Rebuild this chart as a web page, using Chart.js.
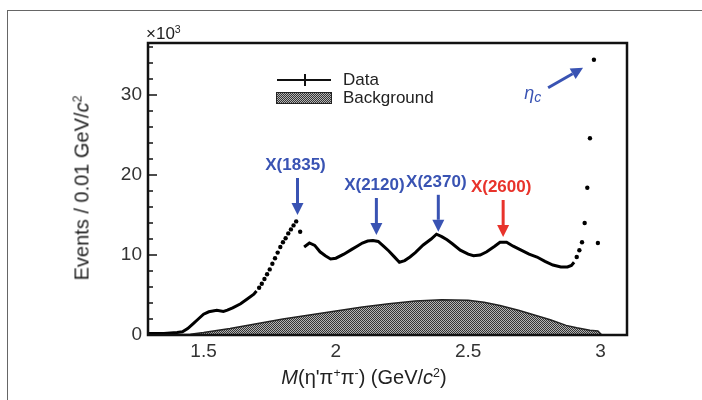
<!DOCTYPE html>
<html>
<head>
<meta charset="utf-8">
<script src="https://cdn.jsdelivr.net/npm/chart.js@4.4.1/dist/chart.umd.min.js"></script>
<style>
  html, body { margin: 0; padding: 0; background: #fff; }
  #wrap { position: relative; width: 702px; height: 400px; overflow: hidden;
          font-family: "Liberation Sans", Arial, sans-serif; color: #222; }
  #frame { position: absolute; left: 7px; top: 10px; width: 800px; height: 500px;
           border-left: 1.5px solid #666; border-top: 1.5px solid #666; }
  #c { position: absolute; left: 0; top: 0; }
  .t { position: absolute; white-space: nowrap; line-height: 20px; }
  .ytitle { left: 83px; top: 188px; font-size: 20px; transform: translate(-50%, -50%) rotate(-90deg); }
  .xtitle { left: 364px; top: 378px; font-size: 20px; transform: translate(-50%, -50%); }
  sup { font-size: 62%; vertical-align: 0; position: relative; top: -0.55em; }
  .mul { left: 146px; top: 24px; font-size: 17px; }
  .lg-line { position: absolute; left: 277px; top: 79px; width: 54px; height: 2px; background: #111; }
  .lg-tick { position: absolute; left: 304px; top: 74px; width: 2px; height: 12px; background: #111; }
  .lg-box { position: absolute; left: 276px; top: 92px; width: 54px; height: 10px; border: 1px solid #222;
            background-image: repeating-conic-gradient(#333 0 25%, #b4b4b4 0 50%); background-size: 2px 2px; }
  .lg-txt { font-size: 17px; left: 343px; }
</style>
</head>
<body>
<div id="wrap">
  <div id="frame"></div>
  <canvas id="c" width="702" height="400"></canvas>
  <div class="t ytitle">Events / 0.01 GeV/<i>c</i><sup>2</sup></div>
  <div class="t xtitle"><i>M</i>(η'π<sup>+</sup>π<sup>-</sup>) (GeV/<i>c</i><sup>2</sup>)</div>
  <div class="t mul">×10<sup>3</sup></div>
  <div class="lg-line"></div><div class="lg-tick"></div>
  <div class="lg-box"></div>
  <div class="t lg-txt" style="top:70px">Data</div>
  <div class="t lg-txt" style="top:88px">Background</div>
</div>
<script>
// ---- data (events in units of 10^3 per 0.01 GeV/c^2) ----
// continuous part of the data curve; null breaks the line where the points are drawn as dots
const lineMass = [1.29, 1.35, 1.40, 1.42, 1.44, 1.46, 1.48, 1.50, 1.52, 1.55, 1.575, 1.59, 1.61, 1.64, 1.665, 1.69, 1.70,
  1.705,
  1.88, 1.90, 1.92, 1.94, 1.96, 1.98, 2.00, 2.03, 2.06, 2.08, 2.10, 2.12, 2.14, 2.16, 2.18, 2.20, 2.22, 2.24, 2.26,
  2.28, 2.30, 2.33, 2.36, 2.38, 2.40, 2.42, 2.44, 2.47, 2.50, 2.52, 2.545, 2.57, 2.60, 2.62, 2.645, 2.67, 2.70,
  2.73, 2.76, 2.79, 2.82, 2.85, 2.875, 2.89, 2.90];
const lineEvents = [0.2, 0.2, 0.3, 0.4, 0.8, 1.4, 2.0, 2.6, 2.9, 3.1, 2.95, 3.1, 3.4, 3.9, 4.5, 5.1, 5.5,
  null,
  11.0, 11.5, 11.2, 10.4, 9.9, 9.5, 9.6, 10.1, 10.7, 11.1, 11.5, 11.75, 11.8, 11.7, 11.1, 10.5, 9.8, 9.1, 9.3,
  9.75, 10.3, 11.25, 12.0, 12.6, 12.3, 11.9, 11.4, 10.6, 10.1, 9.9, 10.0, 10.4, 11.1, 11.6, 11.6, 11.1, 10.6,
  10.1, 9.75, 9.2, 8.75, 8.5, 8.5, 8.7, 9.1];
// bins shown as separate dots (steep rise to X(1835) and the eta_c peak)
const dotMass = [1.71, 1.72, 1.73, 1.74, 1.75, 1.76, 1.77, 1.78, 1.79, 1.80, 1.81, 1.82, 1.83, 1.84, 1.85, 1.865,
  2.91, 2.92, 2.93, 2.94, 2.95, 2.96, 2.975, 2.99];
const dotEvents = [5.9, 6.4, 7.0, 7.6, 8.2, 8.9, 9.6, 10.3, 11.0, 11.6, 12.1, 12.7, 13.2, 13.7, 14.2, 12.9,
  9.75, 10.6, 11.6, 14.0, 18.4, 24.6, 34.4, 11.5];
// hatched background estimate
const bgMass = [1.38, 1.45, 1.50, 1.60, 1.70, 1.80, 1.90, 2.00, 2.10, 2.20, 2.30, 2.40, 2.50, 2.56, 2.62, 2.69,
  2.75, 2.81, 2.87, 2.91, 2.96, 2.99, 3.005];
const bgEvents = [0, 0.1, 0.3, 0.8, 1.4, 2.0, 2.5, 3.0, 3.5, 3.9, 4.25, 4.4, 4.35, 4.1, 3.7, 3.1,
  2.5, 1.9, 1.2, 0.9, 0.6, 0.5, 0];

const xTickValues = [1.5, 2, 2.5, 3];
const yTickValues = [0, 10, 20, 30];
const yMinorTicks = [0, 2, 4, 6, 8, 10, 12, 14, 16, 18, 20, 22, 24, 26, 28, 30, 32, 34, 36];

// annotations: resonance name, mass, height of the arrow tip
const peakNames = ["X(1835)", "X(2120)", "X(2370)", "X(2600)"];
const peakMass = [1.855, 2.153, 2.387, 2.632];
const peakTip = [15.0, 12.5, 12.9, 12.25];
const BLUE = "#3953b3", RED = "#e8332b";
const peakColor = [BLUE, BLUE, BLUE, RED];
const etacFrom = [2.802, 30.9], etacTo = [2.934, 33.4], etacLabel = [2.712, 30.0];

const pts = (xs, ys) => xs.map((x, i) => ({x, y: ys[i]}));

// fine checker pattern for the background fill
function hatch() {
  const p = document.createElement("canvas");
  p.width = 2; p.height = 2;
  const g = p.getContext("2d");
  g.fillStyle = "#b4b4b4"; g.fillRect(0, 0, 2, 2);
  g.fillStyle = "#333"; g.fillRect(0, 0, 1, 1); g.fillRect(1, 1, 1, 1);
  return g.createPattern(p, "repeat");
}

function arrow(ctx, x1, y1, x2, y2, color) {
  const ang = Math.atan2(y2 - y1, x2 - x1), hl = 12, hw = 6;
  const bx = x2 - hl * Math.cos(ang), by = y2 - hl * Math.sin(ang);
  ctx.strokeStyle = color; ctx.fillStyle = color; ctx.lineWidth = 3;
  ctx.beginPath(); ctx.moveTo(x1, y1); ctx.lineTo(bx, by); ctx.stroke();
  ctx.beginPath();
  ctx.moveTo(x2, y2);
  ctx.lineTo(bx + hw * Math.sin(ang), by - hw * Math.cos(ang));
  ctx.lineTo(bx - hw * Math.sin(ang), by + hw * Math.cos(ang));
  ctx.closePath(); ctx.fill();
}

const annotate = {
  id: "annotate",
  afterDatasetsDraw(chart) {
    const {ctx, chartArea: a, scales: {x, y}} = chart;
    ctx.save();
    // inward tick marks on the y axis
    ctx.strokeStyle = "#111"; ctx.lineWidth = 1.5;
    yMinorTicks.forEach(v => {
      const py = y.getPixelForValue(v), len = v % 10 === 0 ? 9 : 5;
      ctx.beginPath(); ctx.moveTo(a.left, py); ctx.lineTo(a.left + len, py); ctx.stroke();
    });
    // plot frame
    ctx.lineWidth = 2.5;
    ctx.strokeRect(a.left, a.top, a.right - a.left, a.bottom - a.top);

    // resonance arrows + labels
    ctx.font = 'bold 17px "Liberation Sans", Arial, sans-serif';
    ctx.textAlign = "center"; ctx.textBaseline = "alphabetic";
    peakNames.forEach((n, i) => {
      const px = x.getPixelForValue(peakMass[i]), tip = y.getPixelForValue(peakTip[i]);
      arrow(ctx, px, tip - 37, px, tip, peakColor[i]);
      ctx.fillStyle = peakColor[i];
      ctx.fillText(n, px - 2, tip - 45);
    });

    // eta_c
    arrow(ctx, x.getPixelForValue(etacFrom[0]), y.getPixelForValue(etacFrom[1]),
               x.getPixelForValue(etacTo[0]), y.getPixelForValue(etacTo[1]), BLUE);
    const lx = x.getPixelForValue(etacLabel[0]), ly = y.getPixelForValue(etacLabel[1]);
    ctx.fillStyle = BLUE; ctx.textAlign = "left";
    ctx.font = 'italic 18px "Liberation Sans", Arial, sans-serif';
    ctx.fillText("η", lx, ly + 4);
    const w = ctx.measureText("η").width;
    ctx.font = 'italic 14px "Liberation Sans", Arial, sans-serif';
    ctx.fillText("c", lx + w, ly + 7);
    ctx.restore();
  }
};

const tickFont = {family: '"Liberation Sans", Arial, sans-serif', size: 19};

new Chart(document.getElementById("c"), {
  type: "scatter",
  data: {
    datasets: [
      {label: "Background", data: pts(bgMass, bgEvents), showLine: true, fill: "origin",
       backgroundColor: hatch(), borderColor: "#222", borderWidth: 1.5, pointRadius: 0, order: 3},
      {label: "Data", data: pts(lineMass, lineEvents), showLine: true, spanGaps: false,
       borderColor: "#000", borderWidth: 3, pointRadius: 0, order: 2},
      {label: "Data dots", data: pts(dotMass, dotEvents), showLine: false,
       pointRadius: 2.2, pointBackgroundColor: "#000", pointBorderWidth: 0, order: 1}
    ]
  },
  options: {
    responsive: false, animation: false, devicePixelRatio: 1,
    layout: {padding: {left: 0, top: 43, right: 75, bottom: 0}},
    plugins: {legend: {display: false}, tooltip: {enabled: false}},
    scales: {
      x: {
        type: "linear", min: 1.29, max: 3.1,
        grid: {display: false, drawTicks: false}, border: {display: false},
        afterBuildTicks: s => { s.ticks = xTickValues.map(v => ({value: v})); },
        afterFit: s => { s.height = 65; },
        ticks: {font: tickFont, color: "#333", padding: 5, maxRotation: 0,
                callback: v => String(v)}
      },
      y: {
        min: 0, max: 36.5,
        grid: {display: false, drawTicks: false}, border: {display: false},
        afterBuildTicks: s => { s.ticks = yTickValues.map(v => ({value: v})); },
        afterFit: s => { s.width = 148; },
        ticks: {font: tickFont, color: "#333", padding: 6, callback: v => String(v)}
      }
    }
  },
  plugins: [annotate]
});
</script>
</body>
</html>
